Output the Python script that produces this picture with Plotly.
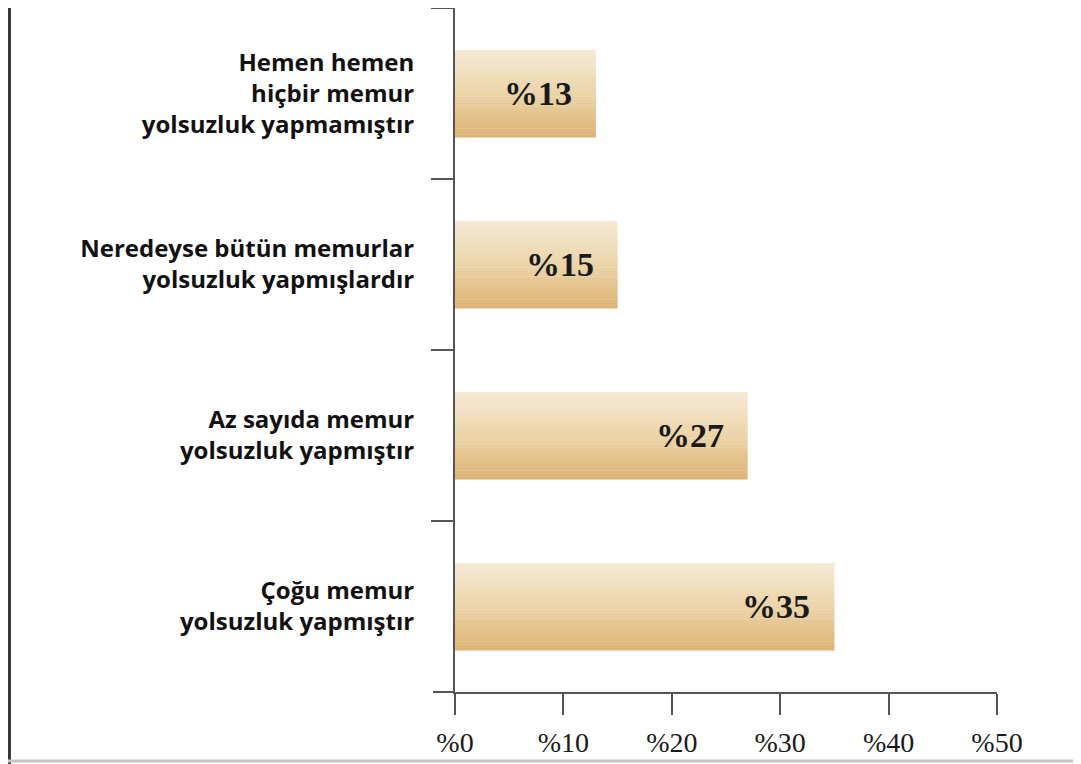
import plotly.graph_objects as go

categories = [
    "Hemen hemen<br>hiçbir memur<br>yolsuzluk yapmamıştır",
    "Neredeyse bütün memurlar<br>yolsuzluk yapmışlardır",
    "Az sayıda memur<br>yolsuzluk yapmıştır",
    "Çoğu memur<br>yolsuzluk yapmıştır",
]
values = [13, 15, 27, 35]
value_labels = ["%13", "%15", "%27", "%35"]
x_tickvals = [0, 10, 20, 30, 40, 50]
x_ticktext = ["%0", "%10", "%20", "%30", "%40", "%50"]

# vertical gradient (top -> bottom)
stops = [(0.0, (244, 233, 213)), (0.5, (236, 212, 168)), (1.0, (220, 180, 118))]


def interp(t):
    for (t0, c0), (t1, c1) in zip(stops[:-1], stops[1:]):
        if t0 <= t <= t1:
            f = (t - t0) / (t1 - t0)
            return "rgb(%d,%d,%d)" % tuple(round(a + (b - a) * f) for a, b in zip(c0, c1))
    return "rgb(%d,%d,%d)" % stops[-1][1]


fig = go.Figure()
N = 30
W = 0.51
w = W / N
for i in range(N):
    fig.add_trace(go.Bar(
        x=values, y=categories, orientation="h",
        width=[w * 1.15] * len(values),
        offset=[-W / 2 + i * w] * len(values),
        marker=dict(color=interp(i / (N - 1)), line=dict(width=0)),
        hoverinfo="skip", showlegend=False,
    ))

for v, lab, cat in zip(values, value_labels, categories):
    fig.add_annotation(
        x=v, y=cat, text=lab, showarrow=False, xanchor="right", yanchor="middle",
        xshift=-22,
        font=dict(family="Liberation Serif", size=34, color="#1a1a1a", weight=700),
    )

# the page body adds an 8px offset; positions below are in figure pixels
OFF = 8
PL, PR, PT, PB = 455 - OFF, 997 - OFF, 0, 692 - OFF
pw, ph = PR - PL, PB - PT

# page frame lines
fx = 1.5
fig.add_shape(type="line", xref="paper", yref="paper",
              x0=(fx - PL) / pw, x1=(fx - PL) / pw, y0=(PB + 10) / ph, y1=(PB - 764) / ph,
              line=dict(color="#3a3a3a", width=3))
by = 761 - OFF
fig.add_shape(type="line", xref="paper", yref="paper",
              x0=(-10 - PL) / pw, x1=(1081 - PL) / pw, y0=(PB - by) / ph, y1=(PB - by) / ph,
              line=dict(color="#c4c4c4", width=3))
# short leftward extension of the x axis line (matches the boundary ticks)
fig.add_shape(type="line", xref="paper", yref="paper",
              x0=-22 / pw, x1=0, y0=0, y1=0,
              line=dict(color="#555", width=2))

fig.update_layout(
    width=1081, height=764,
    margin=dict(l=PL, r=1081 - PR, t=PT, b=764 - PB, pad=0),
    paper_bgcolor="white", plot_bgcolor="white",
    barmode="overlay",
    xaxis=dict(
        range=[0, 50], tickvals=x_tickvals, ticktext=x_ticktext,
        showgrid=False, zeroline=False, showline=True, linecolor="#555", linewidth=2,
        ticks="outside", ticklen=21, tickwidth=2, tickcolor="#555",
        ticklabelstandoff=3,
        tickfont=dict(family="Liberation Serif", size=28, color="#1a1a1a"),
        fixedrange=True,
    ),
    yaxis=dict(
        categoryorder="array", categoryarray=categories, autorange="reversed",
        showgrid=False, zeroline=False, showline=True, linecolor="#555", linewidth=2,
        ticks="outside", tickson="boundaries", ticklen=22, tickwidth=2, tickcolor="#555",
        ticklabelstandoff=34,
        tickfont=dict(family="Open Sans", size=24, color="#111", weight=700),
        fixedrange=True,
    ),
)

fig.write_html("out.html")
